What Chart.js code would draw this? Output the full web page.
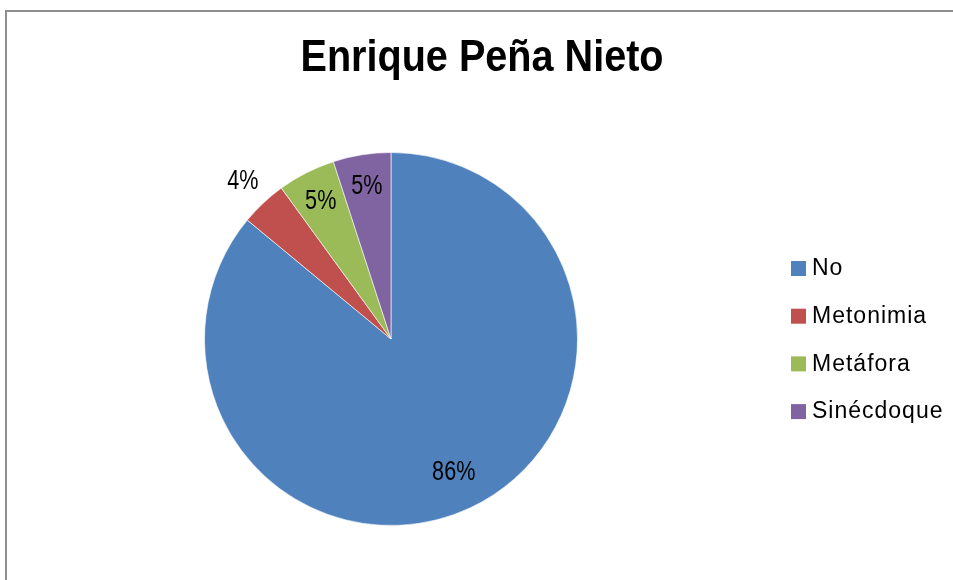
<!DOCTYPE html>
<html>
<head>
<meta charset="utf-8">
<script src="https://cdn.jsdelivr.net/npm/chart.js@4"></script>
<style>
  html, body { margin: 0; padding: 0; background: #fff; }
  #wrap { width: 953px; height: 580px; }
</style>
</head>
<body>
<div id="wrap"><canvas id="pieChart" width="953" height="580"></canvas></div>
<script>
// --- Data ---
const chartTitle = 'Enrique Peña Nieto';
const categories = ['No', 'Metonimia', 'Metáfora', 'Sinécdoque'];
const shares = [86, 4, 5, 5];
const sliceColors = ['#4F81BD', '#C0504D', '#9BBB59', '#8064A2'];

// how far out each percentage sits, as a fraction of the radius
const labelRadius = [0.79, 1.16, 0.83, 0.83];

// text squeezed sideways, for a narrow face
function narrowText(c, text, x, y, squeeze) {
    c.save();
    c.translate(x, y);
    c.scale(squeeze, 1);
    c.fillText(text, 0, 0);
    c.restore();
}

// --- Frame, title, slice labels and legend ---
const decorations = {
    id: 'decorations',
    beforeDraw(chart) {
        const c = chart.ctx;
        c.save();
        c.strokeStyle = '#8e8e8e';
        c.lineWidth = 2;
        c.beginPath();
        c.moveTo(6, 600);
        c.lineTo(6, 11);
        c.lineTo(960, 11);
        c.stroke();
        c.restore();
    },
    afterDatasetsDraw(chart) {
        const c = chart.ctx;
        const total = shares.reduce((a, b) => a + b, 0);
        const arcs = chart.getDatasetMeta(0).data;
        c.save();
        c.fillStyle = '#000';
        c.textAlign = 'center';
        c.textBaseline = 'middle';
        c.font = '27px "Liberation Sans", Arial, sans-serif';
        arcs.forEach((arc, i) => {
            const p = arc.getProps(['x', 'y', 'startAngle', 'endAngle', 'outerRadius'], true);
            const mid = (p.startAngle + p.endAngle) / 2;
            const r = p.outerRadius * labelRadius[i];
            const pct = Math.round(shares[i] / total * 100) + '%';
            narrowText(c, pct, p.x + Math.cos(mid) * r, p.y + Math.sin(mid) * r, 0.8);
        });

        // title
        c.font = 'bold 45px "Liberation Sans", Arial, sans-serif';
        c.textBaseline = 'alphabetic';
        narrowText(c, chartTitle, 482, 71, 0.88);

        // legend
        c.textAlign = 'left';
        c.textBaseline = 'middle';
        c.font = '23px "Liberation Sans", Arial, sans-serif';
        c.letterSpacing = '1px';
        categories.forEach((name, i) => {
            const y = 268 + i * 47.7;
            c.fillStyle = sliceColors[i];
            c.fillRect(791, y - 7, 15, 15);
            c.fillStyle = '#000';
            c.fillText(name, 812, y + 1);
        });
        c.restore();
    }
};

// --- Pie ---
const ctx = document.getElementById('pieChart').getContext('2d');
const pieChart = new Chart(ctx, {
    type: 'pie',
    data: {
        labels: categories,
        datasets: [{
            data: shares,
            backgroundColor: sliceColors,
            borderColor: 'rgba(255,255,255,0.6)',
            borderWidth: 1
        }]
    },
    options: {
        responsive: false,
        animation: false,
        layout: { padding: { left: 204, right: 375, top: 152, bottom: 54 } },
        plugins: {
            legend: { display: false },
            tooltip: { enabled: false },
            title: { display: false }
        }
    },
    plugins: [decorations]
});
</script>
</body>
</html>
